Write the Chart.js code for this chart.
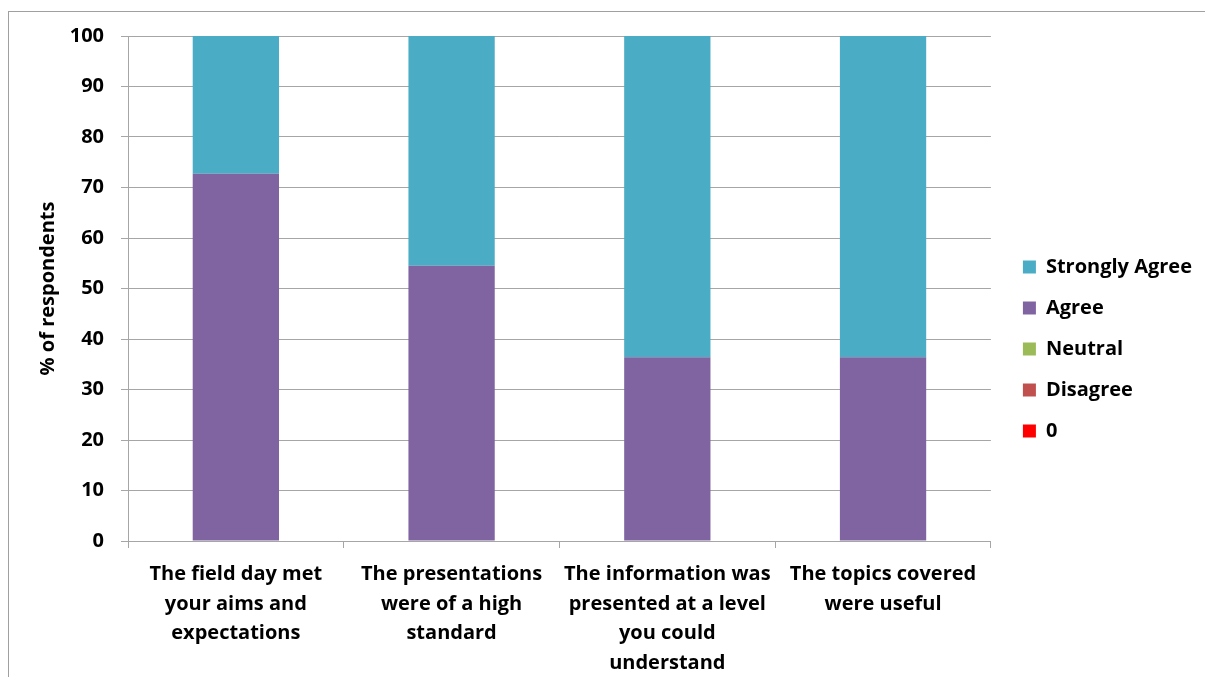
<!DOCTYPE html>
<html>
<head>
<meta charset="utf-8">
<script src="https://cdn.jsdelivr.net/npm/chart.js@4/dist/chart.umd.min.js"></script>
<style>
  html, body { margin: 0; padding: 0; background: #fff; }
  #wrap { position: relative; width: 1205px; height: 677px; }
  #frame { position: absolute; left: 8px; top: 11px; right: 0; bottom: 0;
           border-left: 1px solid #a0a0a0; border-top: 1px solid #a0a0a0; }
  canvas { position: absolute; left: 0; top: 0; }
</style>
</head>
<body>
<div id="wrap">
  <div id="frame"></div>
  <canvas id="c" width="1205" height="677"></canvas>
</div>
<script>
// Survey statements (wrapped onto several lines)
const categories = [
  ["The field day met", "your aims and", "expectations"],
  ["The presentations", "were of a high", "standard"],
  ["The information was", "presented at a level", "you could", "understand"],
  ["The topics covered", "were useful"]
];

// % of respondents per answer
const zeroValues     = [0, 0, 0, 0];
const disagree       = [0, 0, 0, 0];
const neutral        = [0, 0, 0, 0];
const agree          = [72.7, 54.5, 36.4, 36.4];
const stronglyAgree  = [27.3, 45.5, 63.6, 63.6];

const yTicks = [0, 10, 20, 30, 40, 50, 60, 70, 80, 90, 100];

const FONT = "Open Sans";
const gridGrey = "#a6a6a6";

const ds = (label, data, color) => ({
  label, data, backgroundColor: color, borderWidth: 0,
  barPercentage: 0.4, categoryPercentage: 1.0
});

// Centre the legend column a little higher than the full canvas height would
const legendLift = {
  id: "legendLift",
  afterLayout(chart) {
    if (chart.legend) chart.legend.bottom -= 15;
  }
};

new Chart(document.getElementById("c"), {
  type: "bar",
  data: {
    labels: categories,
    datasets: [
      ds("0", zeroValues, "#ff0000"),
      ds("Disagree", disagree, "#c0504d"),
      ds("Neutral", neutral, "#9bbb59"),
      ds("Agree", agree, "#8064a2"),
      ds("Strongly Agree", stronglyAgree, "#4bacc6")
    ]
  },
  plugins: [legendLift],
  options: {
    responsive: false,
    animation: false,
    devicePixelRatio: 1,
    layout: { padding: { top: 36, left: 0, right: 3, bottom: 0 } },
    plugins: {
      tooltip: { enabled: false },
      legend: {
        position: "right",
        align: "center",
        reverse: true,
        labels: {
          boxWidth: 13,
          boxHeight: 13,
          padding: 21,
          color: "#000",
          font: { family: FONT, size: 20, weight: "bold" }
        }
      }
    },
    scales: {
      x: {
        stacked: true,
        grid: { display: true, drawOnChartArea: false, drawTicks: true, tickLength: 7,
                color: gridGrey, offset: true },
        border: { display: true, color: gridGrey, width: 1 },
        ticks: {
          color: "#000", padding: 12, maxRotation: 0, autoSkip: false,
          font: { family: FONT, size: 20, weight: "bold", lineHeight: 1.475 }
        },
        afterFit(s) { s.height = 136; }
      },
      y: {
        stacked: true,
        min: 0, max: 100,
        afterBuildTicks(s) { s.ticks = yTicks.map(v => ({ value: v })); },
        grid: { color: gridGrey, tickLength: 7, drawTicks: true },
        border: { display: true, color: gridGrey, width: 1 },
        ticks: {
          color: "#000", padding: 17,
          font: { family: FONT, size: 20, weight: "bold" }
        },
        title: {
          display: true, text: "% of respondents", color: "#000",
          font: { family: FONT, size: 20, weight: "bold" },
          padding: { top: 36, bottom: 0 }
        },
        afterFit(s) { s.width = 128; }
      },
      gap: {
        position: "right",
        display: true,
        grid: { display: false },
        ticks: { display: false },
        border: { display: false },
        afterFit(s) { s.width = 11; }
      }
    }
  }
});
</script>
</body>
</html>
